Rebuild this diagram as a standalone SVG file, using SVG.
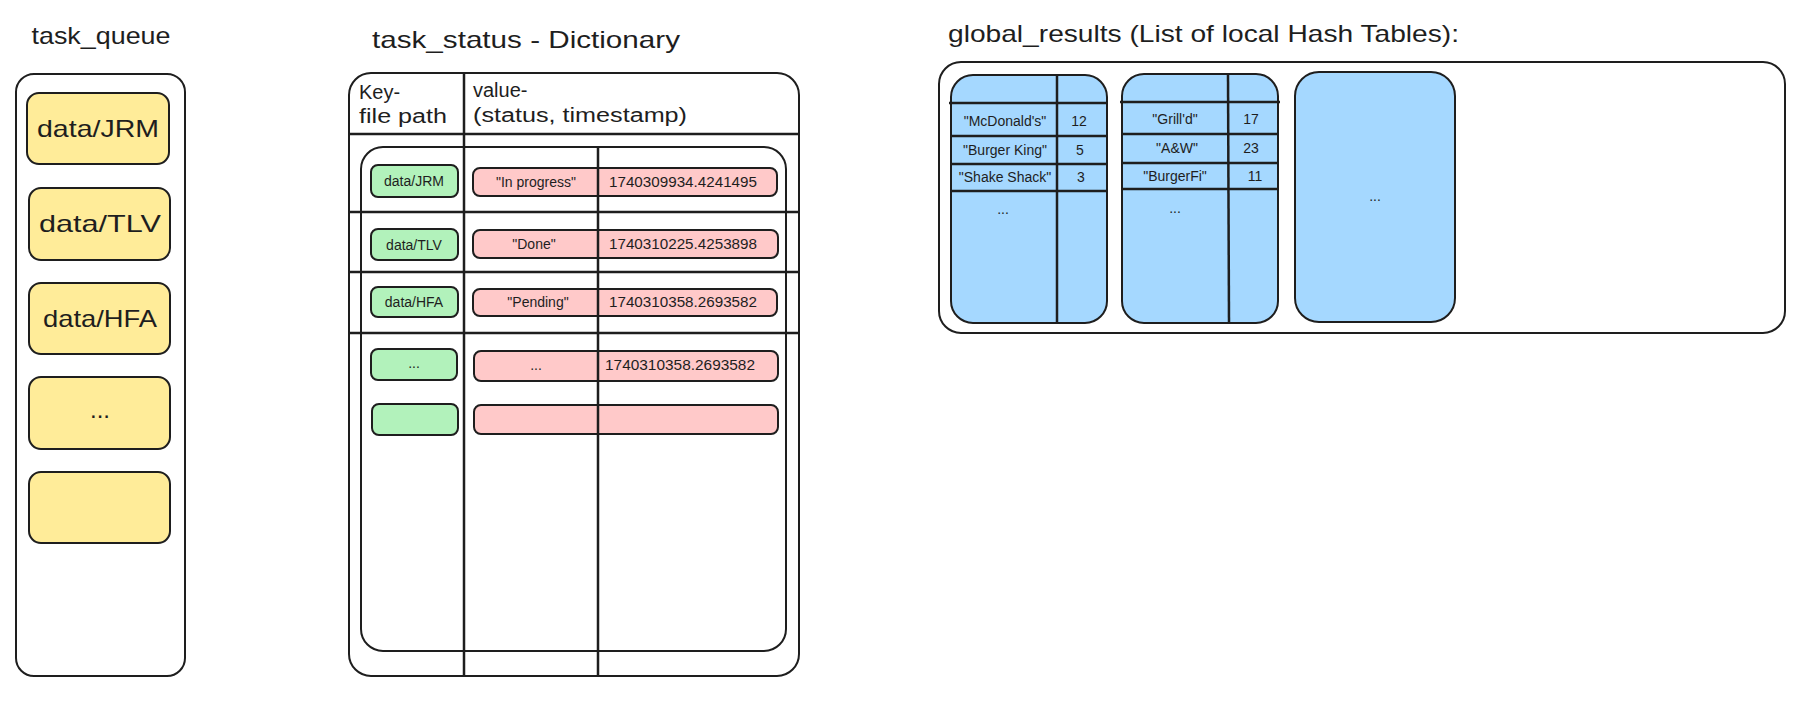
<svg xmlns="http://www.w3.org/2000/svg" width="1813" height="709" viewBox="0 0 1813 709">
<style>
text{font-family:"Liberation Sans","DejaVu Sans",sans-serif;fill:#1e1e1e}
.t{font-size:24px}
.h{font-size:20px}
.s{font-size:14px}
.m{text-anchor:middle}
.box{fill:#fff;stroke:#1e1e1e;stroke-width:2}
.y{fill:#ffec99;stroke:#1e1e1e;stroke-width:2}
.g{fill:#b2f2bb;stroke:#1e1e1e;stroke-width:2}
.r{fill:#ffc9c9;stroke:#1e1e1e;stroke-width:2}
.b{fill:#a5d8ff;stroke:#1e1e1e;stroke-width:2}
.ln{stroke:#1e1e1e;stroke-width:2.5;fill:none}
</style>
<rect width="1813" height="709" fill="#fff"/>

<g id="task_queue">
<text class="t m" x="101" y="44" textLength="139" lengthAdjust="spacingAndGlyphs">task_queue</text>
<rect class="box" x="16" y="74" width="169" height="602" rx="18"/>
<g id="tq1"><rect class="y" x="27" y="93" width="142" height="71" rx="12"/><text class="t m" x="98" y="137" textLength="122" lengthAdjust="spacingAndGlyphs">data/JRM</text></g>
<g id="tq2"><rect class="y" x="29" y="188" width="141" height="72" rx="12"/><text class="t m" x="100" y="232" textLength="122" lengthAdjust="spacingAndGlyphs">data/TLV</text></g>
<g id="tq3"><rect class="y" x="29" y="283" width="141" height="71" rx="12"/><text class="t m" x="100" y="327" textLength="114" lengthAdjust="spacingAndGlyphs">data/HFA</text></g>
<g id="tq4"><rect class="y" x="29" y="377" width="141" height="72" rx="12"/><text class="t m" x="100" y="418">...</text></g>
<g id="tq5"><rect class="y" x="29" y="472" width="141" height="71" rx="12"/></g>
</g>

<g id="task_status">
<text class="t" x="372" y="48" textLength="308" lengthAdjust="spacingAndGlyphs">task_status - Dictionary</text>
<rect class="box" x="349" y="73" width="450" height="603" rx="22"/>
<rect class="box" x="361" y="147" width="425" height="504" rx="22"/>
<text class="h" x="359" y="99">Key-</text>
<text class="h" x="359" y="123" textLength="88" lengthAdjust="spacingAndGlyphs">file path</text>
<text class="h" x="473" y="97">value-</text>
<text class="h" x="473" y="122" textLength="214" lengthAdjust="spacingAndGlyphs">(status, timestamp)</text>

<g id="ts_row1">
<rect class="g" x="371" y="165" width="87" height="32" rx="7"/><text class="s m" x="414" y="186">data/JRM</text>
<rect class="r" x="473" y="168" width="304" height="28" rx="7"/>
<text class="s m" x="536" y="187">"In progress"</text>
<text class="s" x="609" y="187" textLength="148" lengthAdjust="spacingAndGlyphs">1740309934.4241495</text>
</g>
<g id="ts_row2">
<rect class="g" x="371" y="229" width="87" height="31" rx="7"/><text class="s m" x="414" y="250">data/TLV</text>
<rect class="r" x="473" y="230" width="305" height="28" rx="7"/>
<text class="s m" x="534" y="249">"Done"</text>
<text class="s" x="609" y="249" textLength="148" lengthAdjust="spacingAndGlyphs">1740310225.4253898</text>
</g>
<g id="ts_row3">
<rect class="g" x="371" y="287" width="87" height="30" rx="7"/><text class="s m" x="414" y="307">data/HFA</text>
<rect class="r" x="473" y="289" width="304" height="27" rx="7"/>
<text class="s m" x="538" y="307">"Pending"</text>
<text class="s" x="609" y="307" textLength="148" lengthAdjust="spacingAndGlyphs">1740310358.2693582</text>
</g>
<g id="ts_row4">
<rect class="g" x="371" y="349" width="86" height="31" rx="7"/><text class="s m" x="414" y="368">...</text>
<rect class="r" x="474" y="351" width="304" height="30" rx="7"/>
<text class="s m" x="536" y="370">...</text>
<text class="s" x="605" y="370" textLength="150" lengthAdjust="spacingAndGlyphs">1740310358.2693582</text>
</g>
<g id="ts_row5">
<rect class="g" x="372" y="404" width="86" height="31" rx="7"/>
<rect class="r" x="474" y="405" width="304" height="29" rx="7"/>
</g>
</g>

<g id="global_results">
<text class="t" x="948" y="42" textLength="511" lengthAdjust="spacingAndGlyphs">global_results (List of local Hash Tables):</text>
<rect class="box" x="939" y="62" width="846" height="271" rx="22"/>
<g id="ht1">
<rect class="b" x="951" y="75" width="156" height="248" rx="22"/>
<text class="s m" x="1005" y="126">"McDonald's"</text><text class="s m" x="1079" y="126">12</text>
<text class="s m" x="1005" y="155">"Burger King"</text><text class="s m" x="1080" y="155">5</text>
<text class="s m" x="1005" y="182">"Shake Shack"</text><text class="s m" x="1081" y="182">3</text>
<text class="s m" x="1003" y="214">...</text>
</g>
<g id="ht2">
<rect class="b" x="1122" y="74" width="156" height="249" rx="22"/>
<text class="s m" x="1175" y="124">"Grill'd"</text><text class="s m" x="1251" y="124">17</text>
<text class="s m" x="1177" y="153">"A&amp;W"</text><text class="s m" x="1251" y="153">23</text>
<text class="s m" x="1175" y="181">"BurgerFi"</text><text class="s m" x="1255" y="181">11</text>
<text class="s m" x="1175" y="213">...</text>
</g>
<g id="ht3">
<rect class="b" x="1295" y="72" width="160" height="250" rx="24"/>
<text class="s m" x="1375" y="201">...</text>
</g>
</g>

<g id="connectors">
<line class="ln" x1="349" y1="134" x2="799" y2="134"/>
<line class="ln" x1="464" y1="73" x2="464" y2="677"/>
<line class="ln" x1="598" y1="147" x2="598" y2="677"/>
<line class="ln" x1="349" y1="212" x2="800" y2="212"/>
<line class="ln" x1="349" y1="272" x2="800" y2="272"/>
<line class="ln" x1="349" y1="333" x2="800" y2="333"/>
<line class="ln" x1="1057" y1="75" x2="1057" y2="323"/>
<line class="ln" x1="949" y1="103" x2="1108" y2="103"/>
<line class="ln" x1="951" y1="136" x2="1107" y2="136"/>
<line class="ln" x1="951" y1="164" x2="1107" y2="164"/>
<line class="ln" x1="951" y1="191" x2="1107" y2="191"/>
<line class="ln" x1="1228" y1="74" x2="1229" y2="323"/>
<line class="ln" x1="1120" y1="102" x2="1280" y2="102"/>
<line class="ln" x1="1121" y1="134" x2="1278" y2="134"/>
<line class="ln" x1="1121" y1="163" x2="1278" y2="163"/>
<line class="ln" x1="1122" y1="189" x2="1278" y2="189"/>
</g>
</svg>
